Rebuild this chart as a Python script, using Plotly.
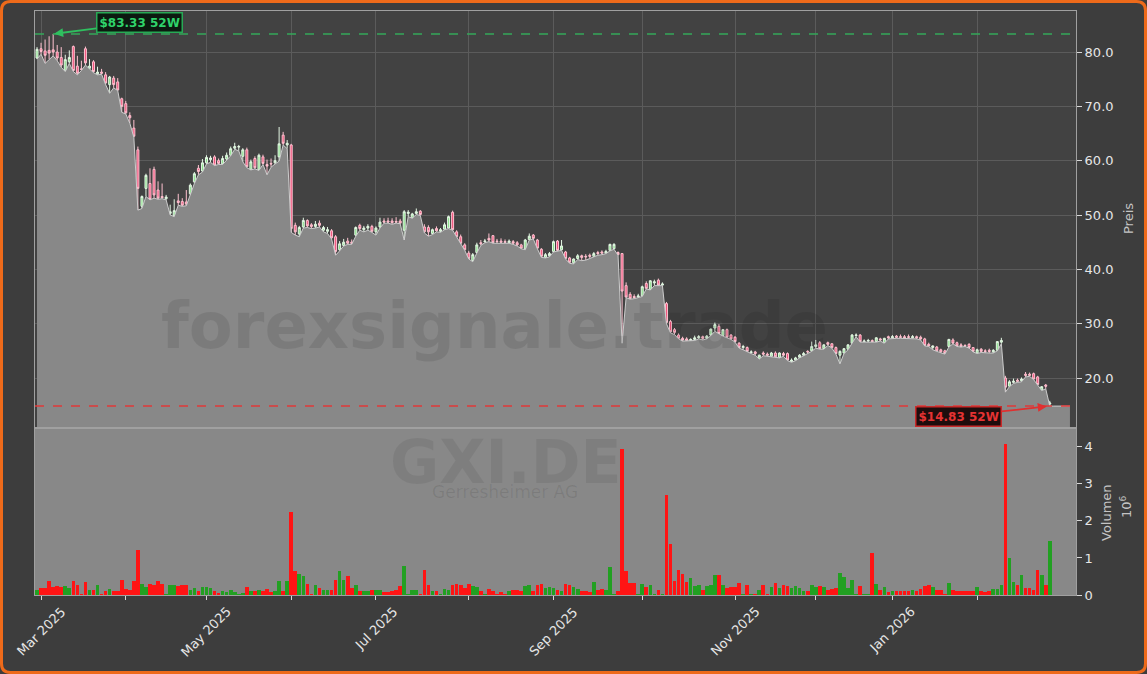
import pandas as pd
import plotly.graph_objects as go

# ---------------- data ----------------
TICKER = "GXI.DE"
COMPANY = "Gerresheimer AG"
WATERMARK = "forexsignale.trade"
START, END = "2025-02-28", "2026-02-26"
HOLIDAYS = ["2025-04-18", "2025-04-21", "2025-05-01", "2025-12-24",
            "2025-12-25", "2025-12-26", "2025-12-31", "2026-01-01"]

OPEN = [
    78.9, 80.6, 80.2, 80.3, 80.4, 80.0, 79.0, 76.6, 78.2, 81.0,
    77.4, 76.9, 80.6, 77.0, 78.2, 76.0, 76.3, 75.8, 74.0, 75.2,
    74.5, 71.4, 70.5, 68.3, 66.0, 62.0, 51.6, 54.9, 55.8, 58.4,
    54.6, 53.4, 53.0, 50.3, 49.8, 52.6, 52.5, 52.4, 53.9, 56.1,
    58.6, 58.1, 59.6, 60.2, 60.7, 60.0, 59.4, 60.3, 61.0, 62.3,
    62.5, 60.8, 62.0, 58.4, 60.4, 58.3, 60.7, 59.3, 59.5, 59.6,
    60.7, 64.7, 62.9, 62.9, 48.1, 46.5, 47.8, 49.0, 48.2, 47.9,
    48.5, 47.2, 47.0, 47.1, 46.0, 43.6, 44.4, 45.2, 45.0, 46.3,
    48.1, 47.3, 47.6, 47.9, 46.9, 47.8, 48.9, 48.9, 48.9, 48.8,
    48.9, 47.2, 50.3, 49.5, 50.3, 50.7, 47.8, 47.7, 46.6, 47.5,
    47.0, 47.4, 47.6, 50.5, 46.9, 46.0, 44.5, 43.0, 41.6, 43.1,
    44.9, 45.1, 45.7, 46.2, 45.2, 45.2, 45.1, 44.9, 45.1, 44.9,
    44.5, 43.8, 45.5, 46.3, 45.4, 43.7, 42.2, 42.5, 43.3, 45.2,
    43.6, 43.2, 42.1, 41.2, 42.0, 42.5, 42.4, 42.6, 42.4, 43.1,
    43.2, 43.0, 43.5, 43.8, 43.1, 42.9, 37.0, 35.4, 35.0, 34.9,
    35.1, 37.4, 36.3, 37.5, 38.0, 37.1, 33.7, 30.4, 28.9, 27.9,
    27.3, 27.2, 26.9, 27.1, 27.4, 27.6, 27.3, 27.9, 29.2, 29.5,
    27.8, 28.9, 27.9, 27.5, 26.4, 25.6, 25.6, 24.7, 24.8, 23.6,
    24.6, 24.4, 24.0, 24.6, 23.8, 24.5, 24.5, 23.0, 23.3, 23.8,
    24.2, 24.9, 25.0, 25.8, 26.5, 25.4, 26.5, 26.3, 25.6, 24.2,
    24.6, 25.3, 26.4, 27.8, 27.9, 26.7, 26.8, 26.9, 26.7, 27.2,
    26.5, 27.6, 27.4, 27.7, 27.6, 27.6, 27.6, 27.4, 27.6, 27.5,
    27.2, 26.2, 25.6, 25.7, 25.2, 25.0, 25.8, 27.0, 26.5, 26.1,
    26.0, 26.2, 25.6, 24.6, 25.3, 25.0, 25.1, 24.8, 25.1, 26.6,
    20.0, 18.5, 19.2, 19.6, 19.5, 20.7, 20.7, 20.8, 20.2, 17.8,
    18.7, 15.2,
]
HIGH = [
    80.9, 81.7, 82.3, 82.9, 83.33, 81.3, 80.9, 79.5, 80.3, 81.2,
    79.3, 78.4, 81.0, 78.7, 78.5, 77.3, 76.9, 76.3, 75.6, 75.6,
    75.2, 71.6, 71.0, 68.9, 67.5, 62.6, 53.6, 57.6, 58.6, 58.9,
    56.2, 55.8, 53.7, 51.9, 52.9, 53.9, 53.1, 54.6, 55.8, 57.9,
    59.2, 60.3, 61.0, 60.9, 61.0, 60.4, 60.9, 61.5, 62.6, 63.3,
    62.9, 62.3, 62.4, 60.2, 60.8, 61.3, 61.1, 60.2, 60.4, 61.0,
    66.2, 65.3, 63.8, 63.1, 48.6, 48.0, 49.5, 49.2, 48.5, 48.9,
    49.0, 48.0, 47.8, 47.4, 46.3, 45.2, 45.6, 45.8, 45.5, 47.9,
    48.4, 48.0, 48.3, 48.2, 47.9, 49.5, 49.4, 49.5, 49.4, 49.6,
    49.3, 50.9, 50.9, 50.4, 51.2, 50.9, 48.3, 48.1, 47.5, 47.9,
    47.6, 48.6, 49.9, 50.8, 47.2, 46.4, 44.8, 43.4, 43.0, 44.9,
    45.4, 45.6, 46.6, 46.3, 45.6, 45.7, 45.5, 45.5, 45.4, 45.2,
    44.7, 45.6, 46.6, 46.5, 45.6, 43.9, 43.0, 43.2, 45.3, 45.4,
    45.4, 43.4, 42.3, 42.0, 42.8, 42.7, 42.8, 42.9, 43.2, 43.4,
    43.5, 43.6, 44.7, 44.8, 43.3, 43.0, 37.6, 35.8, 35.4, 35.5,
    37.0, 37.8, 38.0, 38.1, 38.3, 37.6, 34.0, 30.7, 29.2, 28.2,
    27.6, 27.5, 27.3, 27.8, 27.9, 27.8, 27.9, 29.1, 30.2, 29.9,
    29.0, 29.1, 28.1, 27.7, 26.6, 26.1, 25.8, 25.1, 25.0, 24.3,
    24.9, 24.7, 24.8, 24.9, 24.7, 24.8, 24.7, 23.6, 23.9, 24.4,
    24.8, 25.1, 26.7, 27.0, 26.8, 26.2, 26.7, 26.4, 25.8, 25.1,
    25.5, 26.2, 28.1, 28.2, 28.1, 27.1, 27.2, 27.1, 27.5, 27.4,
    27.4, 27.8, 27.9, 27.9, 28.0, 27.9, 28.0, 27.9, 27.8, 27.8,
    27.4, 26.5, 26.0, 25.9, 25.4, 25.2, 27.2, 27.3, 26.7, 26.4,
    26.2, 26.4, 25.7, 25.4, 25.5, 25.3, 25.4, 25.3, 26.8, 27.4,
    20.4, 19.6, 19.9, 19.9, 20.1, 21.1, 21.0, 21.0, 20.4, 18.5,
    18.9, 15.8,
]
LOW = [
    78.7, 79.6, 77.9, 78.7, 79.3, 78.4, 77.2, 76.4, 77.9, 76.4,
    75.8, 76.6, 77.6, 76.9, 76.2, 75.8, 75.9, 74.0, 72.4, 73.4,
    72.9, 68.9, 68.6, 66.9, 64.3, 50.9, 51.2, 53.4, 52.8, 53.1,
    52.9, 53.0, 52.8, 50.0, 49.7, 51.8, 51.6, 51.7, 53.7, 55.8,
    57.4, 57.9, 59.4, 59.7, 59.1, 59.3, 59.3, 60.1, 60.9, 62.1,
    61.8, 59.8, 58.7, 58.3, 58.5, 58.2, 59.3, 57.4, 58.8, 59.4,
    59.9, 62.9, 62.2, 46.8, 46.3, 46.0, 47.6, 47.7, 47.5, 47.6,
    47.8, 46.9, 46.6, 45.6, 42.6, 43.4, 44.3, 44.6, 44.6, 46.1,
    47.2, 46.9, 47.2, 46.8, 46.3, 47.6, 48.5, 48.5, 48.3, 48.5,
    48.4, 45.4, 49.7, 49.4, 50.1, 49.9, 46.7, 46.1, 46.4, 46.9,
    46.8, 47.3, 47.5, 47.2, 45.9, 44.7, 43.5, 41.9, 41.4, 43.0,
    44.4, 44.9, 45.1, 44.8, 44.8, 44.9, 44.8, 44.8, 44.6, 44.3,
    43.8, 43.6, 45.4, 45.6, 43.8, 42.2, 42.1, 42.3, 43.2, 43.3,
    43.5, 41.9, 41.1, 41.0, 41.8, 41.6, 41.7, 42.0, 42.3, 42.6,
    42.7, 42.9, 43.4, 43.7, 42.6, 26.4, 34.8, 34.5, 34.6, 34.8,
    35.0, 36.4, 36.2, 37.0, 37.0, 37.0, 30.0, 28.3, 28.0, 27.2,
    26.8, 26.8, 26.8, 26.9, 27.2, 27.0, 27.2, 27.8, 28.6, 28.1,
    27.7, 27.4, 27.1, 26.6, 25.5, 25.2, 24.8, 24.5, 24.2, 23.5,
    24.1, 24.0, 23.9, 23.8, 23.7, 24.0, 23.2, 22.9, 23.2, 23.7,
    24.1, 24.5, 24.9, 25.5, 25.3, 25.3, 26.0, 25.5, 24.4, 22.6,
    24.5, 25.2, 26.3, 27.6, 26.6, 26.6, 26.6, 26.6, 26.6, 26.8,
    26.4, 27.2, 27.3, 27.3, 27.3, 27.3, 27.3, 27.3, 27.2, 27.0,
    25.9, 25.8, 25.2, 24.9, 24.7, 24.4, 25.7, 26.3, 25.8, 25.7,
    25.8, 25.5, 24.8, 24.5, 24.7, 24.6, 24.6, 24.6, 25.0, 26.3,
    17.4, 18.4, 19.0, 19.2, 19.3, 20.2, 20.3, 19.7, 18.7, 17.7,
    18.0, 14.83,
]
CLOSE = [
    80.5, 80.1, 79.4, 79.8, 80.0, 78.9, 77.6, 78.6, 79.0, 76.6,
    76.1, 76.8, 78.0, 77.4, 76.4, 76.3, 76.1, 74.3, 75.4, 74.0,
    73.0, 70.0, 68.8, 67.9, 64.5, 54.9, 53.4, 57.3, 52.9, 53.7,
    53.1, 53.2, 53.3, 50.6, 50.8, 52.3, 51.8, 52.0, 55.5, 57.6,
    58.0, 59.6, 60.6, 60.5, 59.2, 59.5, 60.4, 61.0, 62.2, 62.6,
    62.6, 62.0, 58.9, 59.8, 58.7, 61.0, 59.5, 59.0, 59.4, 60.0,
    63.1, 63.2, 63.2, 47.5, 46.9, 47.7, 49.0, 48.0, 47.9, 48.3,
    48.1, 47.7, 47.3, 45.8, 43.3, 44.7, 45.0, 44.8, 44.8, 47.7,
    47.5, 47.6, 47.9, 47.0, 47.6, 48.7, 48.7, 48.7, 48.6, 48.7,
    48.5, 50.6, 50.5, 50.2, 50.6, 50.1, 46.9, 46.9, 47.3, 47.1,
    47.3, 48.2, 49.7, 47.3, 46.0, 44.8, 43.6, 42.0, 42.7, 44.5,
    44.7, 45.2, 45.4, 44.9, 45.1, 45.0, 45.0, 45.2, 44.8, 44.5,
    43.9, 45.4, 46.1, 45.7, 43.9, 42.4, 42.7, 42.9, 45.1, 43.5,
    44.3, 42.0, 41.3, 41.9, 42.5, 42.2, 42.3, 42.4, 42.9, 42.9,
    43.0, 43.3, 44.6, 44.6, 42.7, 36.0, 34.9, 34.6, 34.8, 35.1,
    36.8, 36.5, 37.9, 37.7, 37.1, 37.3, 30.2, 28.5, 28.4, 27.3,
    27.0, 26.9, 27.1, 27.4, 27.6, 27.3, 27.7, 29.0, 29.8, 28.2,
    28.9, 27.5, 27.2, 26.7, 25.6, 25.8, 24.9, 24.8, 24.5, 24.2,
    24.4, 24.2, 24.6, 23.9, 24.6, 24.2, 23.3, 23.3, 23.7, 24.2,
    24.5, 24.8, 25.8, 26.1, 25.4, 26.1, 26.2, 25.6, 24.5, 24.9,
    25.4, 26.1, 27.9, 27.9, 26.7, 26.8, 26.9, 26.7, 27.4, 27.0,
    27.3, 27.4, 27.6, 27.5, 27.5, 27.4, 27.5, 27.6, 27.4, 27.2,
    26.0, 25.9, 25.9, 25.0, 24.8, 24.5, 27.1, 26.4, 25.9, 25.8,
    25.9, 25.6, 24.9, 25.2, 24.9, 24.9, 24.9, 25.1, 26.7, 26.9,
    18.3, 19.3, 19.4, 19.4, 19.8, 20.5, 20.5, 19.8, 18.8, 18.4,
    18.5, 15.4,
]
VOLUME_M = [
    0.15, 0.20, 0.20, 0.40, 0.23, 0.25, 0.23, 0.25, 0.20, 0.40,
    0.27, 0.05, 0.36, 0.15, 0.15, 0.29, 0.05, 0.13, 0.18, 0.11,
    0.11, 0.43, 0.18, 0.15, 0.40, 1.22, 0.32, 0.22, 0.30, 0.27,
    0.40, 0.32, 0.05, 0.29, 0.29, 0.25, 0.27, 0.27, 0.15, 0.20,
    0.13, 0.22, 0.22, 0.20, 0.13, 0.08, 0.13, 0.09, 0.15, 0.09,
    0.04, 0.08, 0.22, 0.11, 0.11, 0.14, 0.11, 0.18, 0.09, 0.13,
    0.38, 0.11, 0.38, 2.25, 0.67, 0.59, 0.52, 0.31, 0.04, 0.27,
    0.20, 0.15, 0.15, 0.14, 0.43, 0.65, 0.43, 0.52, 0.20, 0.29,
    0.13, 0.11, 0.13, 0.15, 0.15, 0.15, 0.09, 0.09, 0.13, 0.15,
    0.25, 0.79, 0.03, 0.15, 0.15, 0.03, 0.68, 0.27, 0.13, 0.11,
    0.03, 0.18, 0.14, 0.27, 0.32, 0.27, 0.20, 0.32, 0.25, 0.22,
    0.11, 0.03, 0.18, 0.11, 0.03, 0.09, 0.03, 0.13, 0.15, 0.14,
    0.13, 0.25, 0.27, 0.13, 0.29, 0.32, 0.20, 0.22, 0.20, 0.15,
    0.13, 0.31, 0.27, 0.22, 0.18, 0.13, 0.13, 0.09, 0.36, 0.15,
    0.18, 0.15, 0.76, 0.03, 0.11, 3.95, 0.65, 0.34, 0.34, 0.03,
    0.31, 0.22, 0.27, 0.03, 0.15, 0.03, 2.70, 1.40, 0.38, 0.70,
    0.58, 0.36, 0.47, 0.25, 0.27, 0.15, 0.25, 0.27, 0.54, 0.54,
    0.27, 0.20, 0.22, 0.22, 0.34, 0.03, 0.27, 0.03, 0.03, 0.15,
    0.27, 0.03, 0.22, 0.34, 0.20, 0.27, 0.25, 0.20, 0.25, 0.20,
    0.11, 0.13, 0.27, 0.22, 0.25, 0.22, 0.15, 0.18, 0.20, 0.61,
    0.49, 0.20, 0.43, 0.03, 0.25, 0.03, 0.03, 1.15, 0.31, 0.15,
    0.22, 0.09, 0.11, 0.13, 0.11, 0.13, 0.13, 0.15, 0.13, 0.18,
    0.25, 0.27, 0.22, 0.15, 0.15, 0.03, 0.34, 0.15, 0.13, 0.13,
    0.13, 0.11, 0.11, 0.22, 0.11, 0.09, 0.11, 0.18, 0.18, 0.27,
    4.10, 1.00, 0.36, 0.29, 0.54, 0.20, 0.20, 0.15, 0.68, 0.54,
    0.29, 1.47,
]
HIGH_52W = 83.33
LOW_52W = 14.83
PRICE_TICKS = [20, 30, 40, 50, 60, 70, 80]
VOL_TICKS = [0, 1, 2, 3, 4]

# ---------------- derived ----------------
dates = pd.bdate_range(START, END)
dates = dates[~dates.isin(pd.to_datetime(HOLIDAYS))]
n = len(CLOSE)
idx = list(range(n))
tick_idx = [i for i in range(1, n) if dates[i].month != dates[i - 1].month]
label_ticks = [(i, dates[i].strftime("%b %Y")) for k, i in enumerate(tick_idx) if k % 2 == 0]
i_hi = HIGH.index(max(HIGH))
i_lo = LOW.index(min(LOW))

FILL_EXTRA = 5
fill_x = idx + [n - 1 + k for k in range(1, FILL_EXTRA + 1)]
fill_y = LOW + [LOW[-1]] * FILL_EXTRA

UP_VOL, DN_VOL = "#22a022", "#ff1414"
vol_colors = [UP_VOL if c >= o else DN_VOL for o, c in zip(OPEN, CLOSE)]

# ---------------- geometry ----------------
W, H = 1147, 674
ML, MR, MT, MB = 35, 71, 11, 79
PW, PH = W - ML - MR, H - MT - MB
SPLIT_PX = 427.5
PD = (H - MB - SPLIT_PX) / PH


def X(px):
    return (px - ML) / PW


def Y(py):
    return (H - MB - py) / PH


PAPER = "#3d3d3d"
PLOT = "#424242"
GRID = "#5b5b5b"
SPINE = "#a0a0a0"
TXT = "#e6e6e6"
TTL = "#c4c4c4"
FONT = "DejaVu Sans"

fig = go.Figure()
fig.add_trace(go.Scatter(
    x=fill_x, y=fill_y, mode="lines", line=dict(color="#cdcdcd", width=1),
    fill="tozeroy", fillcolor="#888888", xaxis="x", yaxis="y", hoverinfo="skip"))
fig.add_trace(go.Candlestick(
    x=idx, open=OPEN, high=HIGH, low=LOW, close=CLOSE, xaxis="x", yaxis="y",
    increasing=dict(line=dict(color="#e4f7e4", width=1), fillcolor="#86e086"),
    decreasing=dict(line=dict(color="#ffc2d0", width=1), fillcolor="#f0507a"),
    whiskerwidth=0))
fig.add_trace(go.Bar(
    x=idx, y=VOLUME_M, marker=dict(color=vol_colors, line=dict(width=0)),
    width=0.9, xaxis="x2", yaxis="y2"))

shapes = [
    dict(type="rect", xref="x2 domain", yref="y2 domain", x0=0, x1=1, y0=0, y1=1,
         fillcolor="#888888", line=dict(width=0), layer="below"),
    dict(type="line", xref="x domain", yref="y", x0=0, x1=1, y0=HIGH_52W, y1=HIGH_52W,
         line=dict(color="#35a85a", width=1.5, dash="dash")),
    dict(type="line", xref="x domain", yref="y", x0=0, x1=1, y0=LOW_52W, y1=LOW_52W,
         line=dict(color="#e03838", width=1.5, dash="dash")),
]
ins, rad = 1.5, 9
bp = (f"M {X(rad+ins)},{Y(ins)} L {X(W-rad-ins)},{Y(ins)} "
      f"Q {X(W-ins)},{Y(ins)} {X(W-ins)},{Y(rad+ins)} "
      f"L {X(W-ins)},{Y(H-rad-ins)} Q {X(W-ins)},{Y(H-ins)} {X(W-rad-ins)},{Y(H-ins)} "
      f"L {X(rad+ins)},{Y(H-ins)} Q {X(ins)},{Y(H-ins)} {X(ins)},{Y(H-rad-ins)} "
      f"L {X(ins)},{Y(rad+ins)} Q {X(ins)},{Y(ins)} {X(rad+ins)},{Y(ins)} Z")
shapes.append(dict(type="path", xref="paper", yref="paper", path=bp,
                   line=dict(color="#ee6a1a", width=3)))

annotations = [
    dict(text="<b>" + WATERMARK + "</b>", xref="paper", yref="paper", x=X(494), y=Y(326),
         showarrow=False, font=dict(family=FONT, size=64, color="rgba(0,0,0,0.09)"),
         xanchor="center", yanchor="middle"),
    dict(text="<b>" + TICKER + "</b>", xref="paper", yref="paper", x=X(505), y=Y(462),
         showarrow=False, font=dict(family=FONT, size=60, color="rgba(0,0,0,0.07)"),
         xanchor="center", yanchor="middle", height=50),
    dict(text=COMPANY, xref="paper", yref="paper", x=X(505), y=Y(492),
         showarrow=False, font=dict(family=FONT, size=17, color="rgba(0,0,0,0.09)"),
         xanchor="center", yanchor="middle", height=18),
    dict(text="Preis", xref="paper", yref="paper", x=X(1128), y=Y(219), textangle=-90,
         xanchor="center", yanchor="middle",
         showarrow=False, font=dict(family=FONT, size=13, color=TTL)),
    dict(text="Volumen", xref="paper", yref="paper", x=X(1106), y=Y(513), textangle=-90,
         xanchor="center", yanchor="middle",
         showarrow=False, font=dict(family=FONT, size=13, color=TTL)),
    dict(text="10<sup>6</sup>", xref="paper", yref="paper", x=X(1126), y=Y(507), textangle=-90,
         xanchor="center", yanchor="middle",
         showarrow=False, font=dict(family=FONT, size=13, color=TTL)),
    dict(text=f"<b>${HIGH_52W:.2f} 52W</b>", xref="x", yref="y", x=i_hi, y=HIGH_52W,
         ax=86, ay=-11, showarrow=True, arrowhead=2, arrowsize=1, arrowwidth=1.8,
         arrowcolor="#2fbf5f", standoff=1,
         font=dict(family=FONT, size=12, color="#2fd36a"),
         bgcolor="#0c1a10", bordercolor="#27a955", borderwidth=1.5, borderpad=2),
    dict(text=f"<b>${LOW_52W:.2f} 52W</b>", xref="x", yref="y", x=i_lo, y=LOW_52W,
         ax=-91, ay=10, showarrow=True, arrowhead=2, arrowsize=1, arrowwidth=1.8,
         arrowcolor="#e03030", standoff=3,
         font=dict(family=FONT, size=12, color="#e53333"),
         bgcolor="#1e0d0d", bordercolor="#c82a2a", borderwidth=1.5, borderpad=2),
]
# month labels, rotated 45 degrees and centred under their ticks
for i, lab in label_ticks:
    annotations.append(dict(text=lab, xref="x", yref="paper", x=i, y=Y(601),
                            xanchor="center", yanchor="top", textangle=-45, showarrow=False,
                            font=dict(family=FONT, size=13, color=TXT)))

axis_common = dict(showline=True, mirror=True, linecolor=SPINE, linewidth=1, zeroline=False)

fig.update_layout(
    width=W, height=H, margin=dict(l=ML, r=MR, t=MT, b=MB),
    paper_bgcolor=PAPER, plot_bgcolor=PLOT, showlegend=False,
    font=dict(family=FONT, size=13, color=TXT),
    shapes=shapes, annotations=annotations, bargap=0,
    xaxis=dict(domain=[0, 1], anchor="y", range=[-0.5, 257.5], tickvals=tick_idx,
               showticklabels=False, ticks="", showgrid=True, gridcolor=GRID, gridwidth=1,
               rangeslider=dict(visible=False), **axis_common),
    xaxis2=dict(domain=[0, 1], anchor="y2", matches="x", tickvals=tick_idx,
                showticklabels=False, ticks="outside", ticklen=4, tickcolor="#d8d8d8",
                showgrid=False, **axis_common),
    yaxis=dict(domain=[PD, 1], anchor="x", side="right", range=[10.89, 87.55],
               tickvals=PRICE_TICKS, ticktext=[f"{v:.1f}" for v in PRICE_TICKS],
               ticks="outside", ticklen=5, tickcolor="#d8d8d8",
               tickfont=dict(family=FONT, size=13, color=TXT),
               showgrid=True, gridcolor=GRID, gridwidth=1, **axis_common),
    yaxis2=dict(domain=[0, PD], anchor="x2", side="right", range=[0, 4.52],
                tickvals=VOL_TICKS, ticktext=[str(v) for v in VOL_TICKS],
                ticks="outside", ticklen=5, tickcolor="#d8d8d8",
                tickfont=dict(family=FONT, size=13, color=TXT), showgrid=False, **axis_common),
)

fig.write_html("out.html", config={"displayModeBar": False},
               post_script="document.body.style.margin='0';")
